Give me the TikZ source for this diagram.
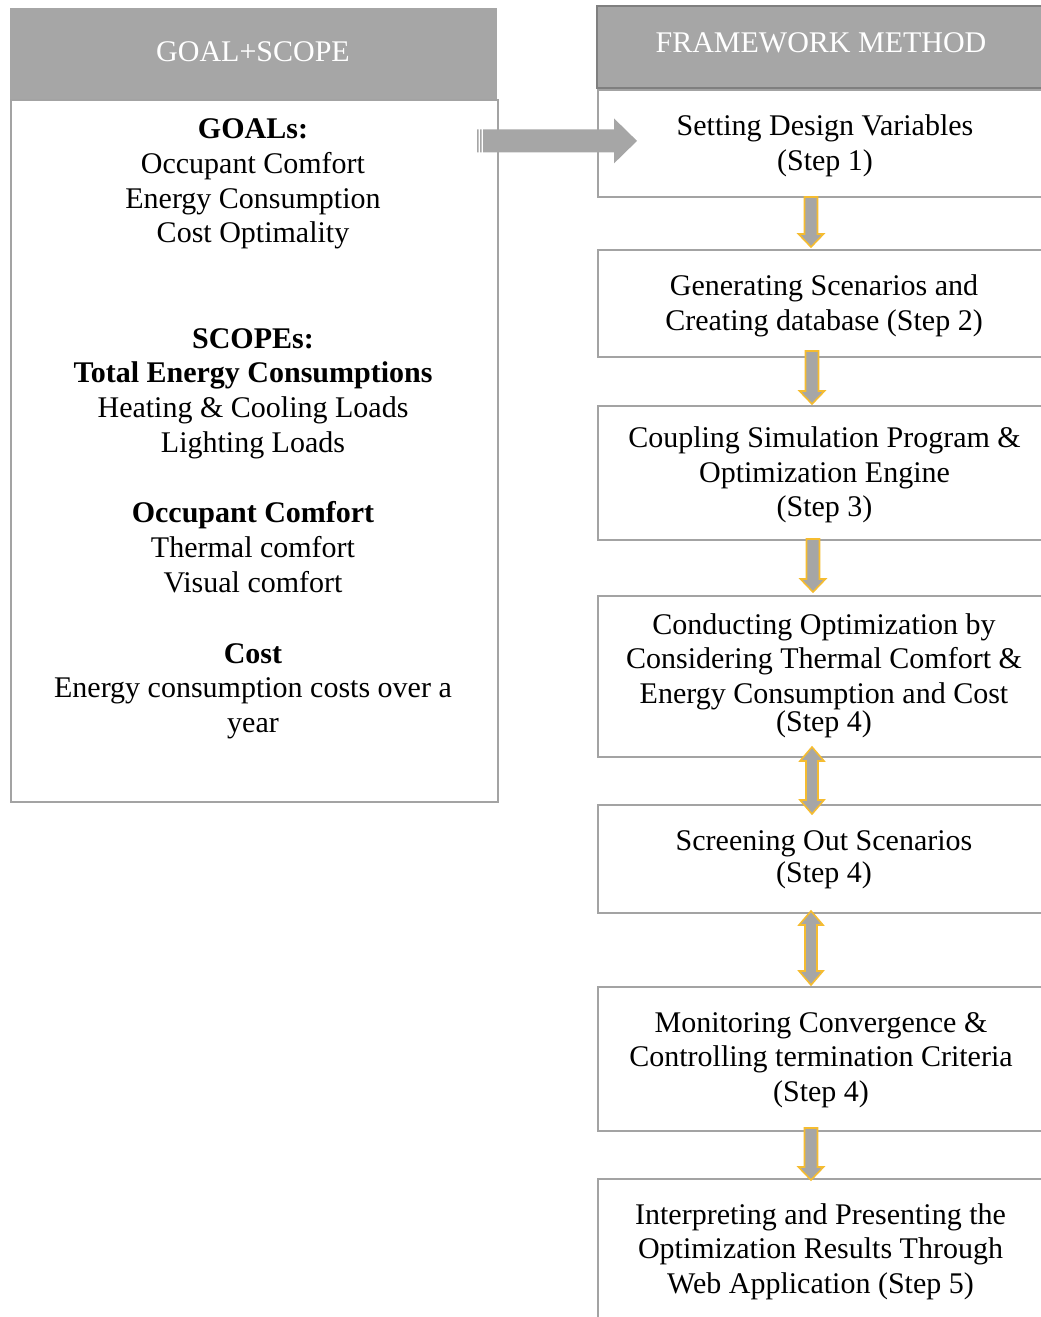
\documentclass[tikz,border=0pt]{standalone}
\usepackage{fontspec}
\setmainfont{Liberation Serif}
\usetikzlibrary{calc}

\definecolor{hdrgray}{HTML}{A6A6A6}
\definecolor{boxline}{HTML}{A3A3A3}
\definecolor{hdrline}{HTML}{7F7F7F}
\definecolor{arrowgold}{HTML}{F5BC30}

% single fat arrow pointing down, from the top point #1 to the tip #2
\newcommand\flowdown[2]{%
  \path[flowarrow] let \p1=#1, \p2=#2 in
    (\x1-6.5pt,\y1) -- (\x1+6.5pt,\y1) -- (\x1+6.5pt,\y2+13pt)
    -- (\x1+12.5pt,\y2+13pt) -- (\x1,\y2) -- (\x1-12.5pt,\y2+13pt)
    -- (\x1-6.5pt,\y2+13pt) -- cycle;}

% fat arrow with heads at both ends, from top tip #1 to bottom tip #2
\newcommand\flowboth[2]{%
  \path[flowarrow] let \p1=#1, \p2=#2 in
    (\x1,\y1) -- (\x1+12pt,\y1-14pt) -- (\x1+6pt,\y1-14pt)
    -- (\x1+6pt,\y2+14pt) -- (\x1+12pt,\y2+14pt) -- (\x1,\y2)
    -- (\x1-12pt,\y2+14pt) -- (\x1-6pt,\y2+14pt) -- (\x1-6pt,\y1-14pt)
    -- (\x1-12pt,\y1-14pt) -- cycle;}

% striped block arrow pointing right, from tail #1 to tip #2
\newcommand\flowright[2]{%
  \path[fill=hdrgray] let \p1=#1, \p2=#2 in
    (\x1+6pt,\y1+11.5pt) -- (\x2-23pt,\y1+11.5pt) -- (\x2-23pt,\y1+22.5pt)
    -- (\x2,\y1) -- (\x2-23pt,\y1-22.5pt) -- (\x2-23pt,\y1-11.5pt)
    -- (\x1+6pt,\y1-11.5pt) -- cycle
    (\x1,\y1-11.5pt) rectangle (\x1+1.5pt,\y1+11.5pt)
    (\x1+3pt,\y1-11.5pt) rectangle (\x1+4.5pt,\y1+11.5pt);}

\begin{document}
\begin{tikzpicture}[x=1pt,y=-1pt,
  txt/.style={font=\fontsize{30}{34.7}\selectfont, align=center, inner sep=0pt},
  hdrtitle/.style={txt, text=white},
  hdrbox/.style={fill=hdrgray, inner sep=0pt},
  framebox/.style={draw=boxline, line width=2.2pt, inner sep=0pt},
  stepbox/.style={draw=boxline, line width=2pt, inner sep=0pt, minimum width=452},
  flowarrow/.style={fill=hdrgray, draw=arrowgold, line width=1.6pt, line join=miter}]

\useasboundingbox (0,0) rectangle (1041,1317);
\clip (0,0) rectangle (1041,1317);

% ---- left column: goal and scope ----
\node[hdrbox, minimum width=487, minimum height=92] (hdrL) at (253.5,54) {};
\node[hdrtitle] (tL) at (253,51.5) {GOAL+SCOPE};
\node[framebox, minimum width=487, minimum height=702] (bodyL) at (254.5,451) {};

\node[txt] (goals) at (253,184) {\textbf{GOALs:}\\Occupant Comfort\\Energy Consumption\\Cost Optimality};
\node[txt] (scopes) at (253,393.5) {\textbf{SCOPEs:}\\\textbf{Total Energy Consumptions}\\Heating \& Cooling Loads\\Lighting Loads};
\node[txt] (comfort) at (253,547) {\textbf{Occupant Comfort}\\Thermal comfort\\Visual comfort};
\node[txt] (cost) at (253,691) {\textbf{Cost}\\Energy consumption costs over a\\year};

% ---- right column: framework method ----
\node[hdrbox, draw=hdrline, line width=2pt, minimum width=453, minimum height=82] (hdrR) at (823.5,47) {};
\node[hdrtitle] (tR) at (821,42.5) {FRAMEWORK METHOD};

\node[stepbox, minimum height=107] (s1) at (824,143.5) {};
\node[stepbox, minimum height=107] (s2) at (824,303.5) {};
\node[stepbox, minimum height=134] (s3) at (824,473) {};
\node[stepbox, minimum height=161] (s4) at (824,676.5) {};
\node[stepbox, minimum height=108] (s5) at (824,859) {};
\node[stepbox, minimum height=144] (s6) at (824,1059) {};
\node[stepbox, minimum height=139] (s7) at (824,1248.5) {};

\node[txt] (s1t) at (825,146) {Setting Design Variables\\(Step 1)};
\node[txt] (s2t) at (824,306) {Generating Scenarios and\\Creating database (Step 2)};
\node[txt] (s3t) at (824.5,475) {Coupling Simulation Program \&\\Optimization Engine\\(Step 3)};
\node[txt] (s4t) at (824,675.5) {Conducting Optimization by\\Considering Thermal Comfort \&\\Energy Consumption and Cost\\[-7pt](Step 4)};
\node[txt] (s5t) at (824,860) {Screening Out Scenarios\\[-2.7pt](Step 4)};
\node[txt] (s6t) at (821,1060) {Monitoring Convergence \&\\Controlling termination Criteria\\(Step 4)};
\node[txt] (s7t) at (820.5,1251.5) {Interpreting and Presenting the\\Optimization Results Through\\Web Application (Step 5)};

% ---- connectors ----
\flowright{($(bodyL.north east)+(-22,42)$)}{($(s1.west)+(40,-1.5)$)}
\flowdown{($(s1.south)+(-13,-1)$)}{($(s2.north)+(-13,-2)$)}
\flowdown{($(s2.south)+(-12,-7)$)}{($(s3.north)+(-12,-1)$)}
\flowdown{($(s3.south)+(-11,-2)$)}{($(s4.north)+(-11,-3)$)}
\flowboth{($(s4.south)+(-12,-11)$)}{($(s5.north)+(-12,10)$)}
\flowboth{($(s5.south)+(-13,-3)$)}{($(s6.north)+(-13,-1)$)}
\flowdown{($(s6.south)+(-13,-4)$)}{($(s7.north)+(-13,2)$)}
\end{tikzpicture}
\end{document}
